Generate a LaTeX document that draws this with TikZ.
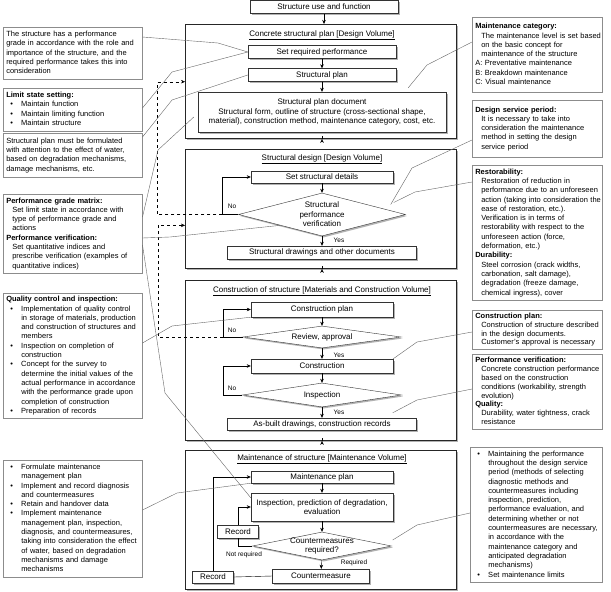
\documentclass[tikz,border=0pt]{standalone}
\usepackage{fontspec}
\setmainfont{Liberation Sans}
\usetikzlibrary{shapes.geometric,shadows,arrows.meta}

\newcommand{\notelines}[1]{\begin{tabular}{@{}l@{}}#1\end{tabular}}
\newcommand{\noteind}{\hspace*{6pt}}
\newcommand{\notebul}{\hspace*{4pt}\makebox[11pt][l]{\textbullet}}
\newcommand{\notecont}{\hspace*{15pt}}

\begin{document}
\begin{tikzpicture}[x=1pt,y=-1pt,
  flow/.style={draw=black!80,fill=white,align=center,inner sep=1pt,
    drop shadow={shadow xshift=1.5pt,shadow yshift=-1.5pt,fill=black!60},
    font=\fontsize{8}{9.6}\selectfont},
  check/.style={flow,shape=diamond,inner sep=0pt},
  volume/.style={draw=black!85,line width=0.9pt,fill=white,anchor=north west,
    minimum width=271pt,drop shadow={shadow xshift=1.5pt,shadow yshift=-1.5pt,fill=black!60}},
  head/.style={font=\fontsize{8}{9.6}\selectfont,inner sep=0pt},
  note/.style={draw=black!45,line width=0.5pt,anchor=north west,align=left,
    inner xsep=3pt,inner ysep=2pt,font=\fontsize{7.5}{9.3}\selectfont},
  lnote/.style={note,text width=133pt},
  rnote/.style={note,text width=124pt},
  lbl/.style={font=\fontsize{6.5}{7.5}\selectfont,inner sep=0pt},
  arr/.style={-{Stealth[length=4pt,width=3.5pt]}},
  call/.style={draw=black!60,line width=0.4pt}]
\useasboundingbox (0,0) rectangle (611,592);

\node [volume,minimum height=114pt] (box1) at (185,24) {};
\node [volume,minimum height=119pt] (box2) at (185,149) {};
\node [volume,minimum height=160pt] (box3) at (185,280) {};
\node [volume,minimum height=139pt] (box4) at (185,450) {};
\node [head] (t1) at (322,35) {\underline{Concrete structural plan [Design Volume]}};
\node [head] (t2) at (322,159) {\underline{Structural design [Design Volume]}};
\node [head] (t3) at (322,291) {\underline{Construction of structure [Materials and Construction Volume]}};
\node [head] (t4) at (322,459) {\underline{Maintenance of structure [Maintenance Volume]}};

\node [flow,minimum width=148pt,minimum height=13pt] (use) at (324,7) {Structure use and function};
\node [flow,minimum width=148pt,minimum height=13pt] (setreq) at (322,52) {Set required performance};
\node [flow,minimum width=148pt,minimum height=13pt] (plan) at (322,75) {Structural plan};
\node [flow,minimum width=248pt,minimum height=40pt] (plandoc) at (322,112)
  {Structural plan document\\Structural form, outline of structure (cross-sectional shape,\\material), construction method, maintenance category, cost, etc.};
\node [flow,minimum width=142pt,minimum height=12pt] (details) at (322,177) {Set structural details};
\node [check,minimum width=167pt,minimum height=43pt] (verif) at (322,214.5) {};
\node [head,align=center] (veriftxt) at (verif) {Structural\\performance\\verification};
\node [flow,minimum width=189pt,minimum height=13pt] (drawings) at (322,252.5) {Structural drawings and other documents};
\node [flow,minimum width=142pt,minimum height=15pt] (cplan) at (322,309.5) {Construction plan};
\node [check,minimum width=158pt,minimum height=22pt] (review) at (322,337) {};
\node [head] (reviewtxt) at (review) {Review, approval};
\node [flow,minimum width=142pt,minimum height=14pt] (constr) at (322,366) {Construction};
\node [check,minimum width=159pt,minimum height=24pt] (insp) at (322,395) {};
\node [head] (insptxt) at (insp) {Inspection};
\node [flow,minimum width=189pt,minimum height=12pt] (asbuilt) at (322,424) {As-built drawings, construction records};
\node [flow,minimum width=142pt,minimum height=12pt] (mplan) at (322,477) {Maintenance plan};
\node [flow,minimum width=142pt,minimum height=28pt] (inspect) at (322,507) {Inspection, prediction of degradation,\\evaluation};
\node [check,minimum width=139pt,minimum height=28pt] (cmreq) at (322,546) {};
\node [head,align=center] (cmreqtxt) at (cmreq) {Countermeasures\\required?};
\node [flow,minimum width=41pt,minimum height=13pt] (rec1) at (238,531.5) {Record};
\node [flow,minimum width=97pt,minimum height=14pt] (cm) at (321,576) {Countermeasure};
\node [flow,minimum width=41pt,minimum height=12pt] (rec2) at (213,577) {Record};

\draw [arr] (use.south) -- (use.south |- box1.north);
\draw [arr] (box1.south -| plan) -- (box1.south -| plan |- box2.north);
\draw [arr] (setreq) -- (plan);
\draw [arr] (plan) -- (plandoc);
\draw [arr] (box2.south -| plan) -- (box2.south -| plan |- box3.north);
\draw [arr] (box3.south -| plan) -- (box3.south -| plan |- box4.north);
\draw [arr] (details) -- (verif);
\draw [arr] (verif) -- (drawings);
\draw [arr] (cplan) -- (review);
\draw [arr] (review) -- (constr);
\draw [arr] (constr) -- (insp);
\draw [arr] (insp) -- (asbuilt);
\draw [arr] (mplan) -- (inspect);
\draw [arr] (inspect) -- (cmreq);
\draw [arr] (cmreq) -- (cm);

\coordinate (nov) at ([xshift=-16pt]verif.west);
\coordinate (nor) at ([xshift=-20pt]review.west);
\coordinate (noi) at ([xshift=-19.5pt]insp.west);
\draw [arr] (verif.west) -- (nov) |- (details.west);
\draw [arr] (review.west) -- (nor) |- (cplan.west);
\draw [arr] (insp.west) -- (noi) |- (constr.west);
\draw (cmreq.west) -| (rec1.south);
\draw [arr] (rec1.north) |- (inspect.west);
\draw (cm.west) -- (rec2.east);
\draw [arr] (rec2.north) |- (mplan.west);
\draw [arr,dashed] (nov) -- ++(-65,0) |- (box1.west |- plan.south);
\draw [arr,dashed] (nor) -- ++(-65,0) |- (box2.west |- verif.south west);

\node [lbl] (no1) at (232,206) {No};
\node [lbl] (no2) at (232,330) {No};
\node [lbl] (no3) at (232,388) {No};
\node [lbl] (yes1) at (339,240) {Yes};
\node [lbl] (yes2) at (339,355) {Yes};
\node [lbl] (yes3) at (339,412) {Yes};
\node [lbl] (notreq) at (244,555) {Not required};
\node [lbl] (req) at (354,563) {Required};

\node [lnote,minimum height=52pt] (l1) at (3,27) {\notelines{The structure has a performance\\grade in accordance with the role and\\importance of the structure, and the\\required performance takes this into\\consideration}};
\node [lnote,minimum height=43pt] (l2) at (3,88) {\notelines{\textbf{Limit state setting:}\\\notebul Maintain function\\\notebul Maintain limiting function\\\notebul Maintain structure}};
\node [lnote,minimum height=44pt] (l3) at (3,133) {\notelines{Structural plan must be formulated\\with attention to the effect of water,\\based on degradation mechanisms,\\damage mechanisms, etc.}};
\node [lnote,minimum height=79pt] (l4) at (3,194) {\notelines{\textbf{Performance grade matrix:}\\\noteind Set limit state in accordance with\\\noteind type of performance grade and\\\noteind actions\\\textbf{Performance verification:}\\\noteind Set quantitative indices and\\\noteind prescribe verification (examples of\\\noteind quantitative indices)}};
\node [lnote,minimum height=124pt] (l5) at (3,293) {\notelines{\textbf{Quality control and inspection:}\\\notebul Implementation of quality control\\\notecont in storage of materials, production\\\notecont and construction of structures and\\\notecont members\\\notebul Inspection on completion of\\\notecont construction\\\notebul Concept for the survey to\\\notecont determine the initial values of the\\\notecont actual performance in accordance\\\notecont with the performance grade upon\\\notecont completion of construction\\\notebul Preparation of records}};
\node [lnote,minimum height=117pt] (l6) at (3,460) {\notelines{\notebul Formulate maintenance\\\notecont management plan\\\notebul Implement and record diagnosis\\\notecont and countermeasures\\\notebul Retain and handover data\\\notebul Implement maintenance\\\notecont management plan, inspection,\\\notecont diagnosis, and countermeasures,\\\notecont taking into consideration the effect\\\notecont of water, based on degradation\\\notecont mechanisms and damage\\\notecont mechanisms}};

\node [rnote,minimum height=75pt] (r1) at (472,17) {\notelines{\textbf{Maintenance category:}\\\noteind The maintenance level is set based\\\noteind on the basic concept for\\\noteind maintenance of the structure\\A: Preventative maintenance\\B: Breakdown maintenance\\C: Visual maintenance}};
\node [rnote,minimum height=57pt] (r2) at (472,100) {\notelines{\textbf{Design service period:}\\\noteind It is necessary to take into\\\noteind consideration the maintenance\\\noteind method in setting the design\\\noteind service period}};
\node [rnote,minimum height=135pt] (r3) at (472,165) {\notelines{\textbf{Restorability:}\\\noteind Restoration of reduction in\\\noteind performance due to an unforeseen\\\noteind action (taking into consideration the\\\noteind ease of restoration, etc.).\\\noteind Verification is in terms of\\\noteind restorability with respect to the\\\noteind unforeseen action (force,\\\noteind deformation, etc.)\\\textbf{Durability:}\\\noteind Steel corrosion (crack widths,\\\noteind carbonation, salt damage),\\\noteind degradation (freeze damage,\\\noteind chemical ingress), cover}};
\node [rnote,font=\fontsize{7.5}{8.8}\selectfont,minimum height=38pt] (r4) at (472,310) {\notelines{\textbf{Construction plan:}\\\noteind Construction of structure described\\\noteind in the design documents.\\\noteind Customer's approval is necessary}};
\node [rnote,font=\fontsize{7.5}{8.9}\selectfont,minimum height=75pt] (r5) at (472,354) {\notelines{\textbf{Performance verification:}\\\noteind Concrete construction performance\\\noteind based on the construction\\\noteind conditions (workability, strength\\\noteind evolution)\\\textbf{Quality:}\\\noteind Durability, water tightness, crack\\\noteind resistance}};
\node [rnote,text width=126pt,minimum height=135pt] (r6) at (470,447) {\notelines{\notebul Maintaining the performance\\\notecont throughout the design service\\\notecont period (methods of selecting\\\notecont diagnostic methods and\\\notecont countermeasures including\\\notecont inspection, prediction,\\\notecont performance evaluation, and\\\notecont determining whether or not\\\notecont countermeasures are necessary,\\\notecont in accordance with the\\\notecont maintenance category and\\\notecont anticipated degradation\\\notecont mechanisms)\\\notebul Set maintenance limits}};

\draw [call] ([yshift=-10pt]l1.north east) -- (218,43) -- (setreq.west);
\draw [call] ([yshift=-20pt]l2.north east) -- (172,72) -- (setreq.west);
\draw [call] ([yshift=-4pt]l3.north east) -- (172,100) -- (plan.west);
\draw [call] ([yshift=-23pt]l4.north east) -- (158,150) -- ([xshift=-4pt,yshift=-5pt]plandoc.west);
\draw [call] ([yshift=-44pt]l4.north east) -- (170,237) -- (verif.south west);
\draw [call] ([yshift=-51pt]l4.north east) -- (165,393) -- ([yshift=-5pt]inspect.north west);
\draw [call] ([yshift=-50pt]l5.north east) -- (172,326) -- (cplan.south west);
\draw [call] ([yshift=-50pt]l6.north east) -- (177,493) -- (mplan.south west);
\draw [call] ([yshift=-25pt]r1.north west) -- (427,65) -- ([xshift=-38pt,yshift=4pt]plandoc.north east);
\draw [call] ([yshift=-40pt]r2.north west) -- (412,168) -- ([xshift=-15pt,yshift=10pt]verif.east);
\draw [call] ([yshift=-17pt]r3.north west) -- (415,192) -- ([xshift=-12pt,yshift=12pt]verif.east);
\draw [call] ([yshift=-22pt]r4.north west) -- (417,342) -- (constr.north east);
\draw [call] ([yshift=-35pt]r5.north west) -- (417,400) -- ([xshift=-24pt,yshift=5pt]asbuilt.north east);
\draw [call] ([yshift=-66pt]r6.north west) -- (417,525) -- ([xshift=1pt,yshift=6pt]cmreq.east);
\end{tikzpicture}
\end{document}
